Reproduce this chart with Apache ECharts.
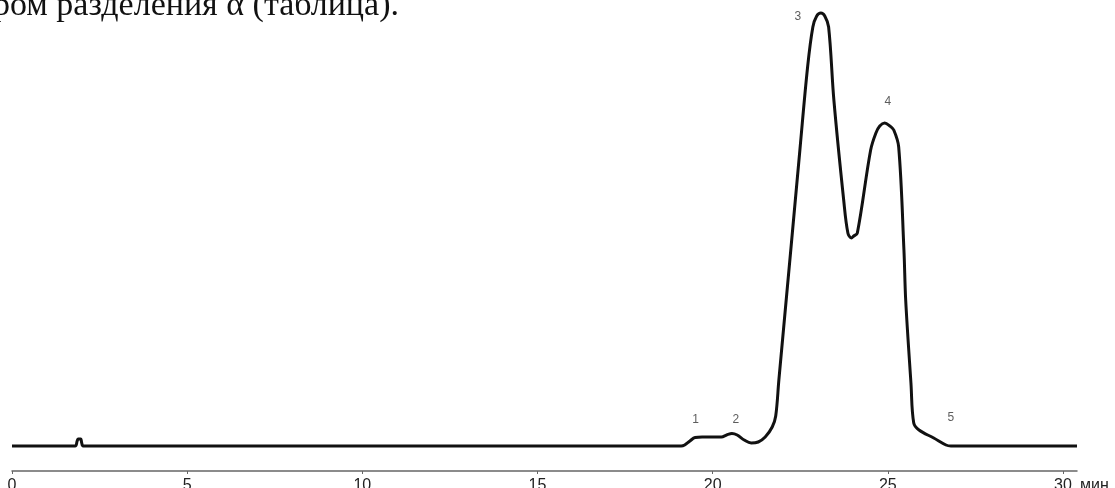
<!DOCTYPE html>
<html>
<head>
<meta charset="utf-8">
<script src="https://cdn.jsdelivr.net/npm/echarts@6/dist/echarts.min.js"></script>
<style>
html,body{margin:0;padding:0;background:#fff;overflow:hidden;}
#c{width:1115px;height:488px;}
</style>
</head>
<body>
<div id="c"></div>
<script>
// retention time (min) and detector signal (relative units)
const times = [0, 1.80, 1.86, 1.89, 1.96, 1.99, 2.03, 19.10, 19.20, 19.35, 19.50, 19.70, 20.00, 20.25, 20.40, 20.55, 20.70, 20.90, 21.10, 21.30, 21.50, 21.70, 21.80, 21.89, 22.23, 22.49, 22.71, 22.86, 22.97, 23.09, 23.20, 23.31, 23.46, 23.74, 23.86, 23.96, 24.03, 24.13, 24.51, 24.66, 24.77, 24.91, 25.06, 25.17, 25.31, 25.46, 25.51, 25.66, 25.74, 25.89, 26.31, 26.66, 26.80, 30.40];
const signal = [0, 0, 5, 7, 7, 3, 0, 0, 1, 5, 8.5, 9, 9, 9, 11, 12.5, 11, 6, 3, 4, 9, 19, 30, 66, 196, 296, 379, 419, 430, 433, 430, 419, 346, 246, 213, 208, 210, 213, 296, 313, 320, 323, 320, 316, 299, 196, 146, 63, 23, 16, 8, 1, 0, 0];
const xTicks = [0, 5, 10, 15, 20, 25, 30];
const peakNames = ['1', '2', '3', '4', '5'];
const peakX = [19.51, 20.66, 22.43, 25.00, 26.80];
const peakY = [26, 26, 429, 344, 28];
const captionText = 'ром разделения α (таблица).';

const chart = echarts.init(document.getElementById('c'), null, {renderer: 'canvas'});
const lineData = times.map((t, i) => [t, signal[i]]);
const labelData = peakNames.map((n, i) => ({name: n, value: [peakX[i], peakY[i]]}));

chart.setOption({
  animation: false,
  backgroundColor: '#fff',
  grid: {left: 12, right: 38, top: 0, bottom: 17, containLabel: false, outerBoundsMode: 'none'},
  xAxis: {
    type: 'value',
    min: 0,
    max: 30.4,
    name: 'мин',
    nameLocation: 'end',
    nameGap: 3,
    nameTextStyle: {fontFamily: 'Liberation Sans, Arial, sans-serif', fontSize: 16, color: '#222', verticalAlign: 'top', padding: [7, 0, 0, 0]},
    splitLine: {show: false},
    axisLine: {show: true, onZero: false, lineStyle: {color: '#666', width: 1.5}},
    axisTick: {show: true, inside: false, length: 3, lineStyle: {color: '#666', width: 1}, customValues: xTicks},
    axisLabel: {show: true, margin: 7, fontFamily: 'Liberation Sans, Arial, sans-serif', fontSize: 16, color: '#222', customValues: xTicks}
  },
  yAxis: {
    type: 'value', min: -25, max: 446, show: false, splitLine: {show: false}
  },
  series: [
    {
      type: 'line',
      data: lineData,
      showSymbol: false,
      smooth: 0.35,
      lineStyle: {color: '#111', width: 3},
      z: 3
    },
    {
      type: 'scatter',
      data: labelData,
      symbolSize: 0,
      label: {show: true, position: 'inside', formatter: '{b}', fontFamily: 'Liberation Sans, Arial, sans-serif', fontSize: 12, color: '#333'},
      silent: true,
      z: 4
    }
  ],
  graphic: [
    {
      type: 'text',
      left: -7,
      top: -11,
      style: {text: captionText, font: '34px "Liberation Serif", "Times New Roman", serif', fill: '#111'}
    }
  ]
});
</script>
</body>
</html>
